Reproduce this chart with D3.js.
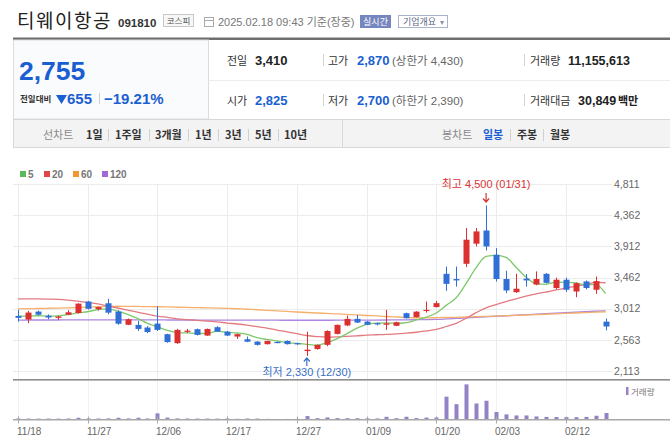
<!DOCTYPE html>
<html><head><meta charset="utf-8">
<script src="https://cdn.jsdelivr.net/npm/d3@7"></script>
<style>
html,body{margin:0;padding:0;background:#fff;overflow:hidden}
svg{display:block;font-family:"Liberation Sans","Noto Sans CJK KR",sans-serif}
</style></head><body>
<svg id="c" width="670" height="447"></svg>
<script>
const dates = ["11/18","11/19","11/20","11/21","11/22","11/25","11/26","11/27","11/28","11/29",
"12/02","12/03","12/04","12/05","12/06","12/09","12/10","12/11","12/12","12/13",
"12/16","12/17","12/18","12/19","12/20","12/23","12/24","12/26","12/27","12/30",
"01/02","01/03","01/06","01/07","01/08","01/09","01/10","01/13","01/14","01/15",
"01/16","01/17","01/20","01/21","01/22","01/23","01/24","01/31","02/03","02/04",
"02/05","02/06","02/07","02/10","02/11","02/12","02/13","02/14","02/17","02/18"];
const openP = [2908,2855,2970,2910,2880,2925,2950,3115,3005,3090,
2970,2780,2778,2740,2797,2644,2515,2682,2716,2624,
2745,2681,2610,2571,2537,2500,2532,2547,2515,2400,
2430,2490,2648,2770,2865,2826,2803,2780,2765,2947,
2890,2978,3035,3515,3440,3660,3950,4140,3790,3440,
3250,3445,3360,3515,3310,3430,3260,3405,3285,2825];
const highP = [2995,2981,2985,2930,2910,2990,3090,3125,3040,3154,
2990,2870,2836,2760,3043,2650,2720,2720,2725,2725,
2760,2690,2650,2610,2545,2550,2540,2555,2520,2680,
2495,2700,2785,2913,2920,2835,2810,2995,2825,2955,
2975,3115,3125,3620,3620,4176,4176,4500,3886,3559,
3516,3511,3550,3525,3460,3460,3390,3420,3477,2870];
const lowP = [2826,2803,2915,2860,2850,2920,2940,3000,2985,2933,
2780,2775,2691,2660,2690,2520,2505,2660,2625,2620,
2675,2620,2575,2530,2480,2495,2515,2495,2490,2330,
2420,2470,2640,2760,2805,2775,2770,2706,2760,2870,
2885,2956,3030,3270,3330,3612,3910,3852,3404,3237,
3240,3330,3350,3375,3290,3255,3178,3290,3226,2700];
const closeP = [2880,2956,2925,2885,2900,2960,3085,3010,3035,2955,
2795,2860,2720,2675,2706,2530,2706,2695,2634,2720,
2681,2624,2644,2535,2490,2547,2522,2500,2500,2420,
2490,2690,2778,2865,2812,2780,2785,2800,2817,2875,
2970,2995,3092,3370,3420,4007,4127,3910,3440,3275,
3300,3420,3440,3385,3430,3285,3380,3310,3410,2755];
const volumeM = [1.7,1.6,1.5,1.6,1.5,1.7,3.0,1.8,1.7,1.9,
3.0,1.9,3.0,1.8,10.6,3.3,1.9,1.7,1.6,1.6,
1.5,1.6,1.2,1.7,1.6,1.1,0.9,1.0,1.1,5.9,
2.3,3.6,2.4,2.3,2.2,1.9,1.8,4.6,2.3,4.7,
2.4,3.3,3.5,39.3,26.4,60.5,27.6,32.3,12.9,8.8,
7.0,7.0,5.3,4.5,4.3,4.1,4.0,4.5,6.5,11.16];
const ma5 = [2905,2905,2910,2905,2909,2925,2951,2968,2998,3009,2976,2931,2873,2801,2751,2698,2667,2662,2654,2657,2687,2671,2661,2641,2595,2568,2548,2519,2512,2498,2486,2520,2576,2649,2727,2785,2804,2808,2799,2811,2849,2891,2950,3060,3169,3377,3603,3767,3781,3752,3610,3469,3375,3364,3395,3392,3384,3358,3363,3228];
const ma20 = [3155,3155,3153,3150,3146,3137,3122,3102,3081,3052,3022,2991,2962,2933,2906,2886,2866,2855,2843,2832,2822,2805,2791,2774,2753,2732,2704,2679,2652,2625,2610,2601,2604,2614,2619,2632,2636,2641,2650,2658,2672,2691,2713,2755,2801,2874,2955,3025,3072,3115,3155,3192,3225,3251,3282,3307,3337,3362,3392,3386];
const ma60 = [3010,3012,3015,3018,3021,3025,3029,3034,3040,3046,3047,3045,3044,3042,3040,3037,3033,3030,3027,3024,3021,3017,3011,3004,2997,2989,2981,2972,2964,2957,2950,2943,2937,2930,2922,2914,2907,2899,2892,2886,2881,2880,2882,2885,2888,2892,2897,2901,2905,2910,2915,2921,2926,2932,2938,2944,2950,2956,2962,2968];
const ma120 = [2848,2848,2849,2849,2849,2850,2850,2850,2851,2851,2851,2851,2850,2850,2850,2849,2849,2849,2848,2848,2848,2847,2847,2847,2846,2846,2846,2845,2845,2845,2845,2845,2846,2846,2847,2847,2848,2849,2850,2851,2853,2855,2858,2864,2871,2879,2887,2895,2903,2910,2918,2925,2932,2940,2947,2954,2961,2968,2975,2982];
const priceTicks = [2113,2563,3012,3462,3912,4362,4811];
const dateTicks = ["11/18","11/27","12/06","12/17","12/27","01/09","01/20","02/03","02/12"];
const maNames = ["5","20","60","120"];

const svg = d3.select("#c");
const KR = '"Noto Sans CJK KR","Liberation Sans",sans-serif';
function txt(x,y,s,o={}){
  const t = svg.append("text").attr("x",x).attr("y",y).text(s)
    .attr("font-size",o.size||11).attr("fill",o.fill||"#333")
    .attr("font-weight",o.weight||"normal");
  if(o.anchor) t.attr("text-anchor",o.anchor);
  if(o.family) t.attr("font-family",o.family);
  if(o.ls) t.attr("letter-spacing",o.ls);
  return t;
}
function line(x1,y1,x2,y2,c,w){svg.append("line").attr("x1",x1).attr("y1",y1).attr("x2",x2).attr("y2",y2).attr("stroke",c).attr("stroke-width",w||1);}

// ---------- header ----------
txt(17,28,"티웨이항공",{size:19,fill:"#222",family:KR,ls:1.5});
txt(118,27,"091810",{size:11.5,weight:"bold",fill:"#333"});
svg.append("rect").attr("x",163.5).attr("y",14.5).attr("width",30).attr("height",12).attr("fill","#f7f7f7").attr("stroke","#c8c8c8");
txt(178.5,24,"코스피",{size:8.5,fill:"#555",anchor:"middle",family:KR});
svg.append("rect").attr("x",204.5).attr("y",17.5).attr("width",9).attr("height",9).attr("fill","none").attr("stroke","#aaa");
line(204.5,20.5,213.5,20.5,"#aaa");
txt(218,26,"2025.02.18 09:43 기준(장중)",{size:11,fill:"#777"});
svg.append("rect").attr("x",360).attr("y",15).attr("width",31).attr("height",13).attr("fill","#7486bd");
txt(375.5,25,"실시간",{size:9,fill:"#fff",anchor:"middle",family:KR});
svg.append("rect").attr("x",398.5).attr("y",15.5).attr("width",49).attr("height",12).attr("fill","#fff").attr("stroke","#a9b3cc");
txt(403,25,"기업개요",{size:9,fill:"#5a6685",family:KR});
txt(440,24.5,"▾",{size:8,fill:"#8892aa"});

svg.append("rect").attr("x",13).attr("y",37.5).attr("width",657).attr("height",2.5).attr("fill","#6f6f6f");

// left price box
svg.append("rect").attr("x",13.5).attr("y",40).attr("width",195).attr("height",79).attr("fill","#fafbfc").attr("stroke","#dcdcdc");
line(208.5,40,208.5,119,"#dcdcdc");
line(208.5,80.5,670,80.5,"#ececec");
line(13,119.5,670,119.5,"#d8d8d8");
txt(19,80,"2,755",{size:26.5,weight:"bold",fill:"#1a5fd1"});
txt(20,102,"전일대비",{size:8.5,weight:"bold",fill:"#333",family:KR});
svg.append("path").attr("d","M56,95 L67,95 L61.5,104 Z").attr("fill","#1a5fd1");
txt(67,104,"655",{size:15,weight:"bold",fill:"#1a5fd1"});
line(99.5,93,99.5,104,"#ccc");
txt(104,104,"−19.21%",{size:15,weight:"bold",fill:"#1a5fd1"});

// info rows
const r1 = 64.5, r2 = 104.5;
txt(227,r1,"전일",{size:11,fill:"#333",family:KR});
txt(255,r1,"3,410",{size:13,weight:"bold",fill:"#222"});
txt(227,r2,"시가",{size:11,fill:"#333",family:KR});
txt(255,r2,"2,825",{size:13,weight:"bold",fill:"#1a5fd1"});
line(323.5,54,323.5,66,"#d5d5d5"); line(323.5,94,323.5,106,"#d5d5d5");
txt(328,r1,"고가",{size:11,fill:"#333",family:KR});
txt(357,r1,"2,870",{size:13,weight:"bold",fill:"#1a5fd1"});
txt(392,r1,"(상한가 4,430)",{size:11.5,fill:"#666"});
txt(328,r2,"저가",{size:11,fill:"#333",family:KR});
txt(357,r2,"2,700",{size:13,weight:"bold",fill:"#1a5fd1"});
txt(392,r2,"(하한가 2,390)",{size:11.5,fill:"#666"});
line(524.5,54,524.5,66,"#d5d5d5"); line(524.5,94,524.5,106,"#d5d5d5");
txt(530,r1,"거래량",{size:11,fill:"#333",family:KR});
txt(568,r1,"11,155,613",{size:12.5,weight:"bold",fill:"#222"});
txt(530,r2,"거래대금",{size:11,fill:"#333",family:KR});
txt(578,r2,"30,849",{size:12.5,weight:"bold",fill:"#222"});
txt(618,r2,"백만",{size:11,weight:"bold",fill:"#222",family:KR});

// toolbar
svg.append("rect").attr("x",13.5).attr("y",119.5).attr("width",660).attr("height",28).attr("fill","#f3f3f4").attr("stroke","#d8d8d8");
line(342.5,120,342.5,147,"#d8d8d8");
const ty = 139;
txt(43,ty,"선차트",{size:11,fill:"#8a8a8a",family:KR});
[["1일",86],["1주일",115],["3개월",155],["1년",195],["3년",225],["5년",255],["10년",284]].forEach(d=>txt(d[1],ty,d[0],{size:11,weight:"bold",fill:"#333",family:KR}));
[108.5,149.5,188.5,218.5,248.5,278.5].forEach(x=>line(x,129,x,141,"#d0d0d0"));
txt(442,ty,"봉차트",{size:11,fill:"#8a8a8a",family:KR});
txt(483,ty,"일봉",{size:11,weight:"bold",fill:"#1a5fd1",family:KR});
txt(517,ty,"주봉",{size:11,weight:"bold",fill:"#333",family:KR});
txt(550,ty,"월봉",{size:11,weight:"bold",fill:"#333",family:KR});
[510.5,543.5].forEach(x=>line(x,129,x,141,"#d0d0d0"));

// ---------- chart ----------
const x = d3.scalePoint().domain(dates).range([18, 605.6]);
const y = d3.scaleLinear().domain([2113, 4811]).range([371, 184]);
const VB = 419.5;
const yv = d3.scaleLinear().domain([0, 62]).range([VB, 383.5]);
const idx = d3.range(dates.length);

const maColors = ["#5cb85c","#e04848","#f39530","#a168d8"];
const lineColors = ["#7cc96a","#e37a80","#f5b06c","#ad86e0"];
const legX = [20,44,73,102];
maNames.forEach((n,i)=>{
  svg.append("rect").attr("x",legX[i]).attr("y",171).attr("width",6).attr("height",6).attr("fill",maColors[i]);
  txt(legX[i]+8,177.5,n,{size:10,weight:"bold",fill:"#777"});
});

const grid = svg.append("g");
priceTicks.forEach(t=>grid.append("line").attr("x1",13).attr("x2",612).attr("y1",Math.round(y(t))+0.5).attr("y2",Math.round(y(t))+0.5).attr("stroke","#ececec"));
dateTicks.forEach(d=>{
  const px = Math.round(x(d))+0.5;
  grid.append("line").attr("x1",px).attr("x2",px).attr("y1",184).attr("y2",379).attr("stroke","#ececec");
  grid.append("line").attr("x1",px).attr("x2",px).attr("y1",381).attr("y2",VB).attr("stroke","#f2f2f2");
});

priceTicks.forEach(t=>txt(614,y(t)+3.8,d3.format(",")(t),{size:10.5,fill:"#666"}));

const mas = [ma120, ma60, ma20, ma5];
const macols = [lineColors[3], lineColors[2], lineColors[1], lineColors[0]];
mas.forEach((m,k)=>{
  svg.append("path").datum(idx).attr("fill","none").attr("stroke",macols[k]).attr("stroke-width",1.3)
    .attr("d",d3.line().x(i=>x(dates[i])).y(i=>y(m[i])).curve(d3.curveMonotoneX));
});

const UP = "#dc3030", DN = "#2f6fd6";
const cg = svg.append("g");
idx.forEach(i=>{
  const cx = Math.round(x(dates[i]))+0.5;
  const col = closeP[i] >= openP[i] ? UP : DN;
  cg.append("line").attr("x1",cx).attr("x2",cx).attr("y1",y(highP[i])).attr("y2",y(lowP[i])).attr("stroke",col).attr("stroke-width",1);
  const top = y(Math.max(openP[i],closeP[i])), bot = y(Math.min(openP[i],closeP[i]));
  cg.append("rect").attr("x",cx-3).attr("width",6).attr("y",top).attr("height",Math.max(1.2,bot-top)).attr("fill",col);
});

const hi = d3.maxIndex(highP), lo = d3.minIndex(lowP);
const hx = x(dates[hi]), lxp = x(dates[lo]);
txt(hx,188,`최고 ${d3.format(",")(highP[hi])} (${dates[hi]})`,{size:11,fill:"#d83434",anchor:"middle"});
svg.append("path").attr("d",`M${hx},193 L${hx},202 M${hx-3},198.5 L${hx},202 L${hx+3},198.5`).attr("stroke","#d83434").attr("fill","none").attr("stroke-width",1.2);
txt(lxp,376,`최저 ${d3.format(",")(lowP[lo])} (${dates[lo]})`,{size:11,fill:"#3a6fc6",anchor:"middle"});
svg.append("path").attr("d",`M${lxp},366 L${lxp},358 M${lxp-3},361.5 L${lxp},358 L${lxp+3},361.5`).attr("stroke","#3a6fc6").attr("fill","none").attr("stroke-width",1.2);

svg.append("rect").attr("x",13).attr("y",379).attr("width",657).attr("height",1.6).attr("fill","#8e8e8e");

idx.forEach(i=>{
  const cx = Math.round(x(dates[i]));
  svg.append("rect").attr("x",cx-1.5).attr("width",4).attr("y",yv(volumeM[i])).attr("height",VB-yv(volumeM[i])).attr("fill","#9482c6");
});
svg.append("rect").attr("x",13).attr("y",VB-0.5).attr("width",657).attr("height",1.5).attr("fill","#a8a8a8");
dateTicks.forEach(d=>{
  const px = Math.round(x(d))+0.5;
  line(px,VB-3,px,VB+4,"#a8a8a8");
  txt(px-1.5,435,d,{size:10,fill:"#666"});
});
svg.append("rect").attr("x",626).attr("y",387).attr("width",2.5).attr("height",8).attr("fill","#9482c6");
txt(631,395,"거래량",{size:8.5,fill:"#777",family:KR});
</script>
</body></html>
